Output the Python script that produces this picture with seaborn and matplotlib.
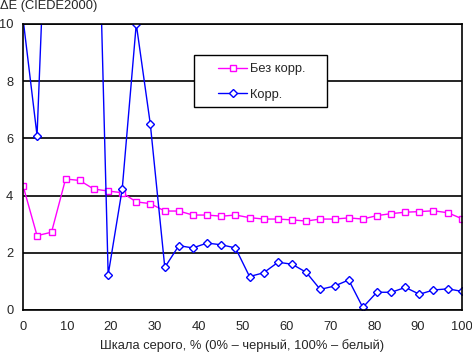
import numpy as np
import pandas as pd
import seaborn as sns
import matplotlib
matplotlib.use('Agg')
import matplotlib.pyplot as plt
from matplotlib.patches import Rectangle

# grey scale steps, % (32 steps from 0 to 100)
gray = [0, 3.2, 6.5, 9.7, 12.9, 16.1, 19.4, 22.6, 25.8, 29.0, 32.3, 35.5,
        38.7, 41.9, 45.2, 48.4, 51.6, 54.8, 58.1, 61.3, 64.5, 67.7, 71.0,
        74.2, 77.4, 80.6, 83.9, 87.1, 90.3, 93.5, 96.8, 100]

# dE without correction
no_corr = [4.35, 2.6, 2.72, 4.58, 4.53, 4.23, 4.16, 4.1, 3.78, 3.72, 3.46, 3.46,
           3.32, 3.32, 3.28, 3.32, 3.23, 3.18, 3.18, 3.15, 3.11, 3.18, 3.18,
           3.22, 3.18, 3.30, 3.37, 3.42, 3.44, 3.47, 3.40, 3.19]

# dE with correction (values above 10 are off the chart)
corr = [10.2, 6.1, 19.0, 22.0, 22.0, 20.7, 1.23, 4.23, 10.0, 6.5, 1.49, 2.25,
        2.17, 2.34, 2.28, 2.17, 1.17, 1.30, 1.67, 1.60, 1.32, 0.72, 0.84,
        1.05, 0.09, 0.62, 0.62, 0.79, 0.55, 0.70, 0.74, 0.65]

sns.set_style('white')
plt.rcParams['font.family'] = ['Liberation Sans', 'DejaVu Sans']
fs = 9.3

W, H = 472, 353
fig = plt.figure(figsize=(W / 100, H / 100), dpi=100)
ax = fig.add_axes([23 / W, 1 - 310 / H, 439 / W, 286 / H])

sns.lineplot(x=gray, y=no_corr, ax=ax, color='#FF00FF', linewidth=1,
             marker='s', markersize=4.6, markerfacecolor='white',
             markeredgecolor='#FF00FF', markeredgewidth=1, label='Без корр.')
sns.lineplot(x=gray, y=corr, ax=ax, color='#0000FF', linewidth=1,
             marker='D', markersize=3.7, markerfacecolor='white',
             markeredgecolor='#0000FF', markeredgewidth=1, label='Корр.')

ax.set_xlim(0, 100)
ax.set_ylim(0, 10)
ax.set_xticks(range(0, 101, 10))
ax.set_yticks(range(0, 11, 2))
ax.yaxis.grid(True, color='black', linewidth=1.2)
ax.set_axisbelow(True)
for s in ax.spines.values():
    s.set_color('black')
    s.set_linewidth(1.2)
ax.tick_params(axis='both', direction='out', length=3, width=1, color='black',
               labelsize=fs, pad=5)
ax.tick_params(axis='y', pad=4)
ax.set_xlabel('Шкала серого, % (0% – черный, 100% – белый)', fontsize=fs,
              labelpad=4)
fig.text(0.0, 1.0, 'ΔE (CIEDE2000)', ha='left', va='top', fontsize=fs)

# legend box drawn by hand, entries placed inside it
ax.add_patch(Rectangle((194 / W, 1 - 107 / H), 133 / W, 52 / H,
                       transform=fig.transFigure, facecolor='white',
                       edgecolor='black', linewidth=1.0, zorder=3,
                       clip_on=False))
leg = ax.legend(loc='upper left', bbox_to_anchor=(218 / W, 1 - 63 / H),
                bbox_transform=fig.transFigure, frameon=False, fontsize=fs,
                handlelength=2.25, handletextpad=0.25, labelspacing=1.05,
                borderpad=0, borderaxespad=0)
leg.set_zorder(5)

fig.savefig('out.png', dpi=100)
